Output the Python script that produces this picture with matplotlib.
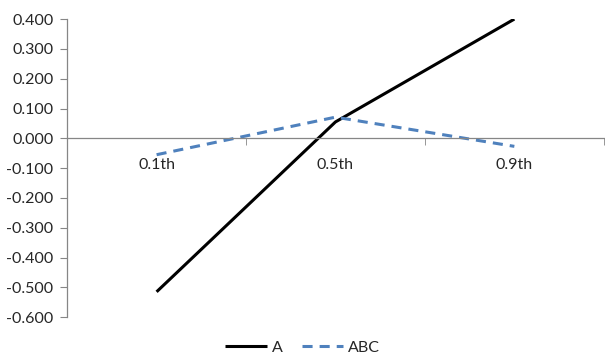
import matplotlib
matplotlib.use("Agg")
import matplotlib.pyplot as plt
from matplotlib.ticker import FixedLocator, FormatStrFormatter

categories = ["0.1th", "0.5th", "0.9th"]
series_a = [-0.515, 0.055, 0.400]
series_abc = [-0.055, 0.071, -0.027]
y_ticks = [0.4, 0.3, 0.2, 0.1, 0.0, -0.1, -0.2, -0.3, -0.4, -0.5, -0.6]

plt.rcParams["font.family"] = ["Lato", "DejaVu Sans"]
FS = 11.5

fig = plt.figure(figsize=(6.05, 3.6), dpi=100)
ax = fig.add_axes([0.111, 0.119, 0.887, 0.828])

x = list(range(len(categories)))
ax.plot(x, series_a, color="black", lw=2.2, label="A", solid_capstyle="butt")
ax.plot(x, series_abc, color="#4F81BD", lw=2.2, ls=(0, (3.3, 2.3)), label="ABC",
        dash_capstyle="butt")

ax.set_xlim(-0.5, len(categories) - 0.5)
ax.set_ylim(-0.6, 0.4)

for s in ["top", "right"]:
    ax.spines[s].set_visible(False)
ax.spines["bottom"].set_position(("data", 0))
ax.spines["bottom"].set_color("#868686")
ax.spines["left"].set_color("#868686")
ax.spines["bottom"].set_linewidth(0.9)
ax.spines["left"].set_linewidth(0.9)

ax.set_yticks(y_ticks)
ax.yaxis.set_major_formatter(FormatStrFormatter("%.3f"))
ax.tick_params(axis="y", direction="out", length=5, color="#868686",
               labelsize=FS, labelcolor="#262626", pad=5)

ax.set_xticks(x)
ax.set_xticklabels(categories)
ax.xaxis.set_minor_locator(FixedLocator([0.5, 1.5, 2.5]))
ax.tick_params(axis="x", which="major", length=0, labelsize=FS,
               labelcolor="#262626", pad=14)
ax.tick_params(axis="x", which="minor", direction="out", length=5,
               color="#868686")

leg = fig.legend(loc="lower center", bbox_to_anchor=(0.5, -0.025), ncol=2,
                 frameon=False, fontsize=FS, handlelength=2.6,
                 handletextpad=0.3, columnspacing=1.2)
for t in leg.get_texts():
    t.set_color("#262626")

fig.savefig("out.png", dpi=100)
